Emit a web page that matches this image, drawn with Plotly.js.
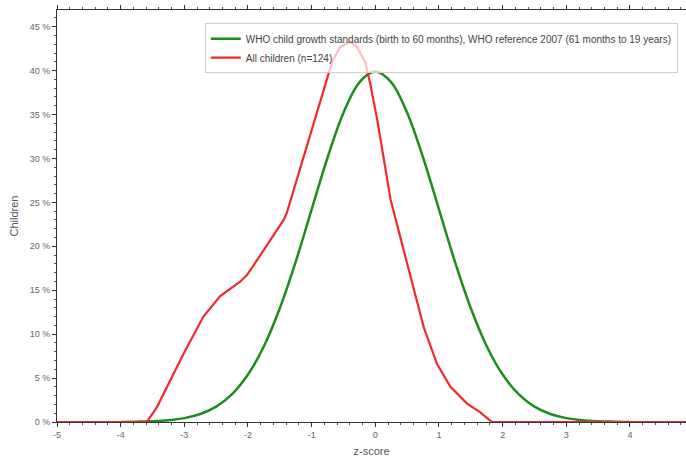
<!DOCTYPE html>
<html>
<head>
<meta charset="utf-8">
<script src="https://cdn.plot.ly/plotly-3.0.1.min.js"></script>
<style>html,body{margin:0;padding:0;background:#fff;}#chart{width:686px;height:460px;}</style>
</head>
<body>
<div id="chart"></div>
<script>
// WHO reference curve (z-score vs % children)
const whoZ   = [-4.0, -3.75, -3.5, -3.25, -3.0, -2.75, -2.5, -2.25, -2.0, -1.75, -1.5, -1.25, -1.0, -0.75, -0.5, -0.25, 0.0, 0.25, 0.5, 0.75, 1.0, 1.25, 1.5, 1.75, 2.0, 2.25, 2.5, 2.75, 3.0, 3.25, 3.5, 3.75, 4.0];
const whoPct = [0.01, 0.04, 0.09, 0.2, 0.44, 0.91, 1.75, 3.17, 5.4, 8.63, 12.95, 18.26, 24.2, 30.11, 35.21, 38.67, 39.89, 38.67, 35.21, 30.11, 24.2, 18.26, 12.95, 8.63, 5.4, 3.17, 1.75, 0.91, 0.44, 0.2, 0.09, 0.04, 0.01];

// Observed sample: all children (n=124)
const allZ   = [-5.0, -3.59, -3.43, -3.22, -3.01, -2.70, -2.44, -2.12, -2.02, -1.86, -1.65, -1.44, -1.39, -1.28, -1.13, -0.97, -0.81, -0.68, -0.55, -0.39, -0.29, -0.16, -0.08, 0.03, 0.11, 0.16, 0.24, 0.39, 0.55, 0.76, 0.97, 1.18, 1.44, 1.65, 1.83, 5.0];
const allPct = [0, 0, 1.7, 4.8, 7.8, 12.0, 14.3, 16.0, 16.7, 18.4, 20.7, 23.0, 23.8, 26.4, 30.2, 34.0, 37.8, 41.0, 42.7, 43.3, 42.7, 41.0, 38.5, 34.4, 31.0, 28.7, 25.3, 21.1, 16.5, 10.8, 6.6, 4.0, 2.1, 1.1, 0, 0];

const seriesNames = ["WHO child growth standards (birth to 60 months), WHO reference 2007 (61 months to 19 years)", "All children (n=124)"];
const xTicks = [-5, -4, -3, -2, -1, 0, 1, 2, 3, 4];
const yTicks = [0, 5, 10, 15, 20, 25, 30, 35, 40, 45];

const traces = [
  {x: whoZ, y: whoPct, name: seriesNames[0], type: 'scatter', mode: 'lines',
   line: {color: '#1e8c1e', width: 2.5, shape: 'spline'}},
  {x: allZ, y: allPct, name: seriesNames[1], type: 'scatter', mode: 'lines',
   line: {color: '#f42a2a', width: 2.2}}
];

const layout = {
  width: 686, height: 460,
  margin: {l: 57, r: 0, t: 10, b: 38},
  paper_bgcolor: '#ffffff', plot_bgcolor: '#ffffff',
  font: {family: 'Liberation Sans, Arial, sans-serif', size: 9, color: '#555'},
  showlegend: true,
  legend: {x: 0.235, y: 0.968, xanchor: 'left', yanchor: 'top',
    bgcolor: 'rgba(255,255,255,0.7)', bordercolor: '#d0d0d0', borderwidth: 1,
    font: {size: 10, color: '#444'}, tracegroupgap: 0, itemwidth: 30},
  xaxis: {range: [-5, 4.88], tickvals: xTicks, ticktext: xTicks.map(String),
    showgrid: false, zeroline: false, showline: true, linecolor: '#333', linewidth: 1,
    mirror: 'ticks', ticks: 'outside', ticklen: 4, tickcolor: '#333',
    minor: {dtick: 0.2, ticks: 'outside', ticklen: 2, tickcolor: '#555', showgrid: false},
    tickfont: {size: 9, color: '#666'},
    title: {text: 'z-score', font: {size: 11, color: '#555'}, standoff: 8}},
  yaxis: {range: [0, 46.9], tickvals: yTicks, ticktext: yTicks.map(v => v + ' %'),
    showgrid: false, zeroline: false, showline: true, linecolor: '#333', linewidth: 1,
    ticks: 'outside', ticklen: 4, tickcolor: '#333',
    minor: {dtick: 1, ticks: 'outside', ticklen: 2, tickcolor: '#555', showgrid: false},
    tickfont: {size: 9, color: '#666'},
    title: {text: 'Children', font: {size: 11, color: '#555'}, standoff: 8}}
};

Plotly.newPlot('chart', traces, layout, {displayModeBar: false, staticPlot: true});
</script>
</body>
</html>
